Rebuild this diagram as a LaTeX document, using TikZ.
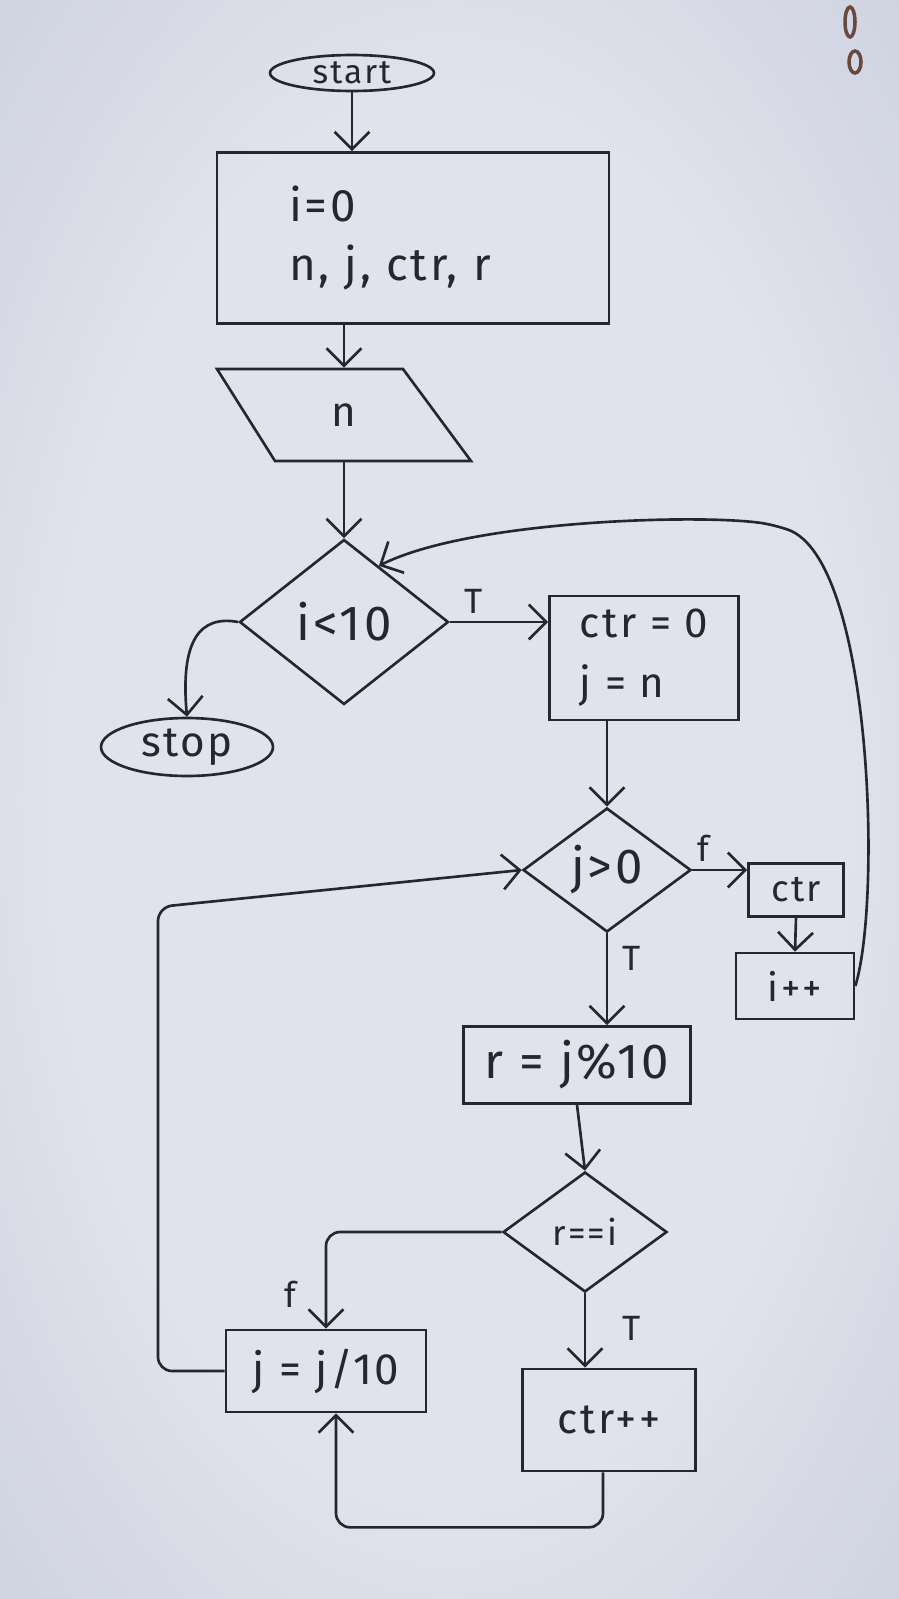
\documentclass[tikz,border=0pt]{standalone}
\usepackage{fontspec}
\setmainfont{Fira Sans}[LetterSpace=6]
\usetikzlibrary{shapes.geometric,arrows.meta,calc}
\definecolor{paperlight}{RGB}{224,226,236}
\definecolor{papermid}{RGB}{204,208,222}
\definecolor{paperdark}{RGB}{166,174,194}
\definecolor{ink}{RGB}{38,38,46}
\definecolor{pen}{RGB}{105,72,64}
\pgfdeclareradialshading{sheet}{\pgfpoint{0bp}{0bp}}{%
  color(0bp)=(paperlight); color(22bp)=(paperlight);
  color(38bp)=(papermid); color(50bp)=(paperdark)}

\begin{document}
\begin{tikzpicture}[x=0.02cm,y=-0.02cm,color=ink,line width=1.5pt,
  proc/.style={rectangle, draw, inner sep=0pt},
  term/.style={ellipse, draw, inner sep=0pt},
  dec/.style={diamond, draw, inner sep=0pt},
  arr/.style={-{Straight Barb[length=3.5mm,width=7mm,line width=1.5pt]}, rounded corners=8pt},
  lbl/.style={font=\fontsize{20}{24}\selectfont}]

% sheet of paper
\useasboundingbox (0,0) rectangle (899,1599);
\shade[shading=sheet] (0,0) rectangle (899,1599);

% small pen marks in the corner
\draw[pen, line width=2pt] (850,22) ellipse [x radius=5, y radius=15];
\draw[pen, line width=2pt] (855,62) ellipse [x radius=6, y radius=11];

% nodes
\node[term, minimum width=3.28cm, minimum height=0.72cm, font=\fontsize{19}{22}\selectfont] (start) at (352,73) {start};
\node[proc, minimum width=7.84cm, minimum height=3.42cm, align=left, text width=4.96cm,
      font=\fontsize{26}{34}\selectfont] (init) at (413,238) {i=0\\n, j, ctr, r};
\node[minimum width=2cm, minimum height=1.84cm, inner sep=0pt, font=\fontsize{24}{28}\selectfont] (inp) at (344,415) {n};
\draw (217,369) -- (403,369) -- (471,461) -- (275,461) -- cycle;
\node[dec, minimum width=4.18cm, minimum height=3.3cm, font=\fontsize{28}{32}\selectfont] (loop) at (344,622) {i<10};
\node[term, minimum width=3.44cm, minimum height=1.16cm, font=\fontsize{24}{28}\selectfont] (stop) at (187,747) {stop};
\node[proc, minimum width=3.78cm, minimum height=2.48cm, align=left,
      font=\fontsize{24}{34}\selectfont] (reset) at (644,658) {ctr = 0\\j = n};
\node[dec, minimum width=3.36cm, minimum height=2.48cm, font=\fontsize{28}{32}\selectfont] (digits) at (607,870) {j>0};
\node[proc, minimum width=1.9cm, minimum height=1.06cm, font=\fontsize{21}{24}\selectfont] (show) at (796,890) {ctr};
\node[proc, minimum width=2.36cm, minimum height=1.32cm, font=\fontsize{22}{26}\selectfont] (next) at (795,986) {i++};
\node[proc, minimum width=4.54cm, minimum height=1.54cm, font=\fontsize{28}{32}\selectfont] (mod) at (577,1065) {r = j\%10};
\node[dec, minimum width=3.28cm, minimum height=2.4cm, font=\fontsize{20}{24}\selectfont] (match) at (585,1232) {r==i};
\node[proc, minimum width=4cm, minimum height=1.64cm, font=\fontsize{25}{30}\selectfont] (div) at (326,1371) {j = j/10};
\node[proc, minimum width=3.46cm, minimum height=2.04cm, font=\fontsize{24}{28}\selectfont] (count) at (609,1420) {ctr++};

% branch labels
\node[lbl] (t1) at (474,601) {T};
\node[lbl] (f1) at (703,848) {f};
\node[lbl] (t2) at (632,958) {T};
\node[lbl] (f2) at (290,1294) {f};
\node[lbl] (t3) at (632,1328) {T};

% connectors
\draw[arr] (start.south) -- (start.south |- init.north);
\draw[arr] (init.south -| inp.north) -- (inp.north);
\draw[arr] (inp.south) -- (loop.north);
\draw[arr] (loop.east) -- (loop.east -| reset.west);
\draw[arr] (loop.west) .. controls (200,615) and (180,640) .. (stop.north);
\draw[arr] (reset.south -| digits.north) -- (digits.north);
\draw[arr] (digits.east) -- (digits.east -| show.west);
\draw[arr] (show.south) -- (next.north);
\draw[arr] (next.east) .. controls (882,900) and (872,560) .. (775,525)
  .. controls (700,514) and (470,520) .. ($(loop.north)!0.33!(loop.east)$);
\draw[arr] (digits.south) -- (digits.south |- mod.north);
\draw[arr] (mod.south) -- (match.north);
\draw[arr] (match.west) -| (div.north);
\draw[arr] (match.south) -- (match.south |- count.north);
\draw[arr] ($(count.south)+(-6,0)$) -- ++(0,55) -| ($(div.south)+(10,0)$);
\draw[arr] (div.west) -- (158,1371) -- (158,907) -- (digits.west);
\end{tikzpicture}
\end{document}
